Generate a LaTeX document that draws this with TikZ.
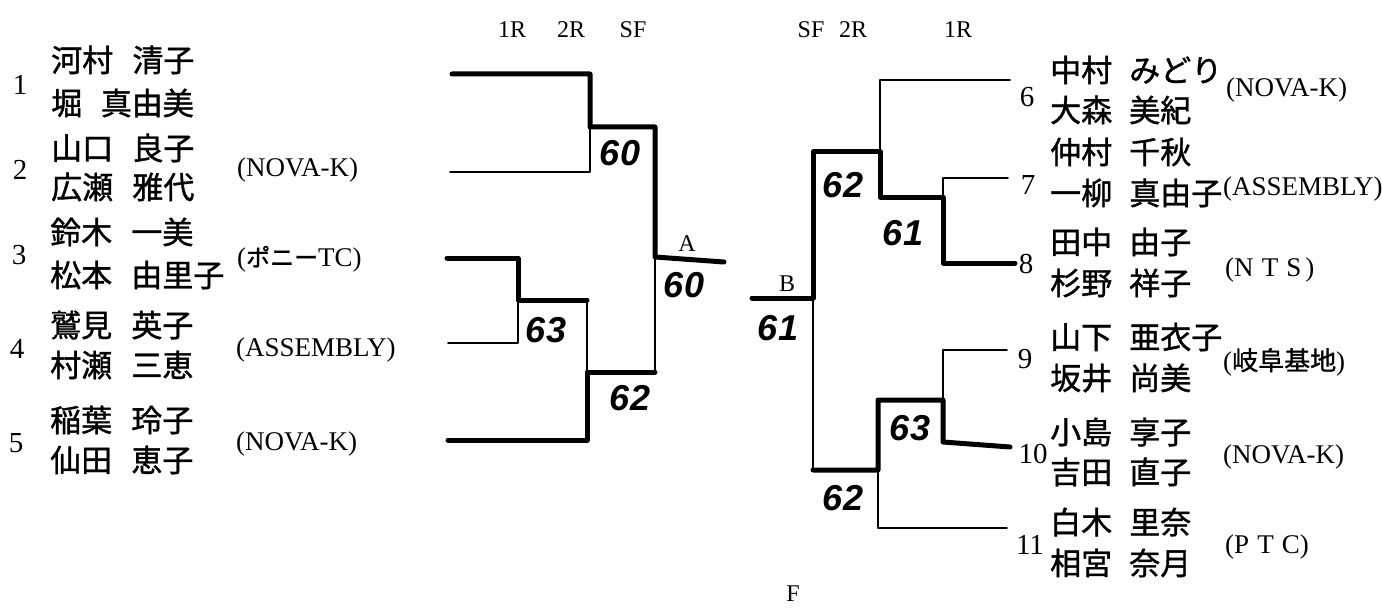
\documentclass[tikz,border=0pt]{standalone}
\usepackage{fontspec}
\setmainfont{Liberation Serif}
\newfontfamily\jpfont{Noto Sans CJK JP}[FakeBold=1.2]
\newfontfamily\handfont{Liberation Sans}
\begin{document}
\begin{tikzpicture}[x=1bp,y=-1bp,
  loser/.style={line width=1.6bp,line cap=round,line join=round},
  winner/.style={line width=5bp,line cap=round,line join=round},
  nm/.style={anchor=west,inner sep=0pt,font=\jpfont\fontsize{31bp}{31bp}\selectfont},
  club/.style={anchor=west,inner sep=0pt,font=\fontsize{27bp}{27bp}\selectfont},
  num/.style={inner sep=0pt,font=\fontsize{29bp}{29bp}\selectfont},
  hdr/.style={inner sep=0pt,font=\fontsize{24bp}{24bp}\selectfont},
  score/.style={inner sep=0pt,font=\handfont\bfseries\itshape\fontsize{36bp}{36bp}\selectfont}]
\useasboundingbox (0,0) rectangle (1382,610);
\fill[white] (0,0) rectangle (1382,610);

% headers
\node[hdr] (hL1) at (512,30) {1R};
\node[hdr] (hL2) at (571,30) {2R};
\node[hdr] (hL3) at (633,30) {SF};
\node[hdr] (hR3) at (811,30) {SF};
\node[hdr] (hR2) at (853,30) {2R};
\node[hdr] (hR1) at (958,30) {1R};

% left numbers
\node[num] (n1) at (20,85) {1};
\node[num] (n2) at (20,170) {2};
\node[num] (n3) at (19,255) {3};
\node[num] (n4) at (17,349) {4};
\node[num] (n5) at (16,443) {5};

% left names
\node[nm] (a1) at (51,60) {河村\hspace{0.62em}清子};
\node[nm] (b1) at (51,103) {堀\hspace{0.6em}真由美};
\node[nm] (a2) at (51,148) {山口\hspace{0.62em}良子};
\node[nm] (b2) at (51,187) {広瀬\hspace{0.62em}雅代};
\node[nm] (a3) at (50,232) {鈴木\hspace{0.62em}一美};
\node[nm] (b3) at (50,275) {松本\hspace{0.62em}由里子};
\node[nm] (a4) at (50,325) {鷲見\hspace{0.62em}英子};
\node[nm] (b4) at (50,365) {村瀬\hspace{0.62em}三恵};
\node[nm] (a5) at (50,420) {稲葉\hspace{0.62em}玲子};
\node[nm] (b5) at (50,460) {仙田\hspace{0.62em}恵子};

% left clubs
\node[club] (c2) at (237,170) {(NOVA-K)};
\node[club] (c3) at (237,259) {({\jpfont\fontsize{24bp}{24bp}\selectfont ポニー}TC)};
\node[club] (c4) at (236,350) {(ASSEMBLY)};
\node[club] (c5) at (236,444) {(NOVA-K)};

% right numbers
\node[num] (n6) at (1027,97) {6};
\node[num] (n7) at (1028,185) {7};
\node[num] (n8) at (1026,264) {8};
\node[num] (n9) at (1025,359) {9};
\node[num] (n10) at (1033,454) {10};
\node[num] (n11) at (1030,545) {11};

% right names
\node[nm] (a6) at (1050,70) {中村\hspace{0.55em}みどり};
\node[nm] (b6) at (1050,110) {大森\hspace{0.55em}美紀};
\node[nm] (a7) at (1050,152) {仲村\hspace{0.55em}千秋};
\node[nm] (b7) at (1050,193) {一柳\hspace{0.55em}真由子};
\node[nm] (a8) at (1050,242) {田中\hspace{0.55em}由子};
\node[nm] (b8) at (1050,283) {杉野\hspace{0.55em}祥子};
\node[nm] (a9) at (1050,337) {山下\hspace{0.55em}亜衣子};
\node[nm] (b9) at (1050,378) {坂井\hspace{0.55em}尚美};
\node[nm] (a10) at (1050,432) {小島\hspace{0.55em}享子};
\node[nm] (b10) at (1050,472) {吉田\hspace{0.55em}直子};
\node[nm] (a11) at (1050,522) {白木\hspace{0.55em}里奈};
\node[nm] (b11) at (1050,563) {相宮\hspace{0.55em}奈月};

% right clubs
\node[club] (c6) at (1226,90) {(NOVA-K)};
\node[club] (c7) at (1223,189) {(ASSEMBLY)};
\node[club] (c8) at (1225,270) {(N\hspace{0.3em}T\hspace{0.3em}S\hspace{0.15em})};
\node[club] (c9) at (1223,362) {({\jpfont\fontsize{26bp}{26bp}\selectfont 岐阜基地})};
\node[club] (c10) at (1223,457) {(NOVA-K)};
\node[club] (c11) at (1225,547) {(P\hspace{0.3em}T\hspace{0.3em}C)};

% ---------- left bracket coordinates
\coordinate (p1) at (452,74);
\coordinate (k1) at (590,74);
\coordinate (m12) at (590,127);
\coordinate (k2) at (590,172);
\coordinate (p2) at (450,172);
\coordinate (s1) at (655,127);
\coordinate (fA) at (655,257);
\coordinate (eA) at (724,262);
\coordinate (p3) at (447,258);
\coordinate (k3) at (518,258);
\coordinate (m34) at (518,300);
\coordinate (k4) at (518,343);
\coordinate (p4) at (448,343);
\coordinate (q34) at (587,300);
\coordinate (m5) at (587,372);
\coordinate (k5) at (587,440);
\coordinate (p5) at (448,440);
\coordinate (s2) at (655,372);

\draw[winner] (p1) -- (k1) -- (m12) -- (s1) -- (fA) -- (eA);
\draw[loser] (m12) -- (k2) -- (p2);
\draw[winner] (p3) -- (k3) -- (m34) -- (q34);
\draw[loser] (m34) -- (k4) -- (p4);
\draw[loser] (q34) -- (m5);
\draw[winner] (p5) -- (k5) -- (m5) -- (s2);
\draw[loser] (s2) -- (fA);

% ---------- right bracket coordinates
\coordinate (p6) at (1010,80);
\coordinate (k6) at (880,80);
\coordinate (t1) at (880,152);
\coordinate (u1) at (813,152);
\coordinate (fB) at (813,298);
\coordinate (eB) at (752,298);
\coordinate (m67) at (880,197);
\coordinate (q78) at (943,197);
\coordinate (k7) at (943,178);
\coordinate (p7) at (1008,178);
\coordinate (k8) at (943,263);
\coordinate (p8) at (1015,263);
\coordinate (u2) at (813,470);
\coordinate (t2) at (878,470);
\coordinate (m910) at (878,400);
\coordinate (q910) at (943,400);
\coordinate (k9) at (943,350);
\coordinate (p9) at (1007,350);
\coordinate (k10) at (943,442);
\coordinate (p10) at (1010,447);
\coordinate (k11) at (878,528);
\coordinate (p11) at (1007,528);

\draw[loser] (p6) -- (k6) -- (t1);
\draw[winner] (eB) -- (fB) -- (u1) -- (t1) -- (m67) -- (q78) -- (k8) -- (p8);
\draw[loser] (q78) -- (k7) -- (p7);
\draw[loser] (fB) -- (u2);
\draw[winner] (u2) -- (t2) -- (m910) -- (q910) -- (k10) -- (p10);
\draw[loser] (q910) -- (k9) -- (p9);
\draw[loser] (t2) -- (k11) -- (p11);

% labels
\node[hdr] (lA) at (687,244) {A};
\node[hdr] (lB) at (787,284) {B};
\node[hdr] (lF) at (793,594) {F};

% scores
\node[score] (sc1) at (620,153) {60};
\node[score] (sc2) at (684,285) {60};
\node[score] (sc3) at (546,330) {63};
\node[score] (sc4) at (630,398) {62};
\node[score] (sc5) at (843,185) {62};
\node[score] (sc6) at (903,233) {61};
\node[score] (sc7) at (778,328) {61};
\node[score] (sc8) at (910,428) {63};
\node[score] (sc9) at (843,498) {62};
\end{tikzpicture}
\end{document}
